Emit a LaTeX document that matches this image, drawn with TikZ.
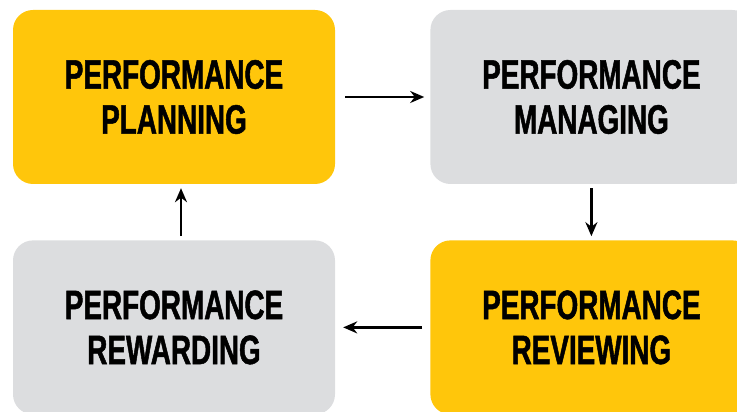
\documentclass[tikz,border=0pt]{standalone}
\usepackage{fontspec}
\newfontfamily\boxfont[FakeStretch=0.68,FakeBold=1.2]{Liberation Sans}
\usetikzlibrary{arrows.meta,positioning}
\definecolor{perfyellow}{RGB}{255,198,11}
\definecolor{perfgray}{RGB}{220,221,223}

\begin{document}
\begin{tikzpicture}[
  x=1pt, y=1pt, >=Stealth, node distance=56pt and 95pt,
  stage/.style={rounded corners=20pt, align=center, inner sep=0pt,
                minimum width=322pt, minimum height=174pt,
                execute at begin node={\rule{0pt}{44pt}},
                font=\boxfont\bfseries\fontsize{41}{45}\selectfont},
  hot/.style={stage, fill=perfyellow},
  cool/.style={stage, fill=perfgray},
  ar/.style={line width=2.9pt, -{Stealth[length=14pt, width=12pt]}},
]
\clip (0,0) rectangle (737,412);
\node[hot] (plan) at (174,315) {PERFORMANCE\\PLANNING};
\node[cool, right=of plan] (manage) {PERFORMANCE\\MANAGING};
\node[hot, below=of manage] (review) {PERFORMANCE\\REVIEWING};
\node[cool, below=of plan] (reward) {PERFORMANCE\\REWARDING};

\draw[ar, shorten <=10pt, shorten >=6pt] (plan) -- (manage);
\draw[ar, shorten <=4pt, shorten >=4pt] (manage) -- (review);
\draw[ar, shorten <=8pt, shorten >=8pt] (review) -- (reward);
\draw[ar, shorten <=4pt, shorten >=4pt] ([xshift=7pt]reward.north) -- ([xshift=7pt]plan.south);
\end{tikzpicture}
\end{document}
